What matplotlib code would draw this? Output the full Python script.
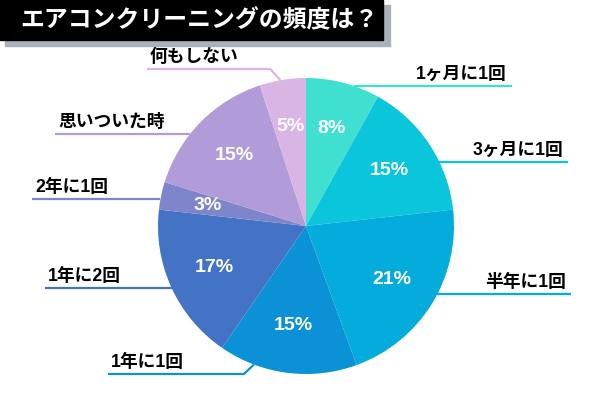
import numpy as np
import matplotlib
matplotlib.use("Agg")
import matplotlib.pyplot as plt
from matplotlib.patches import Rectangle

# データ
labels = ["1ヶ月に1回", "3ヶ月に1回", "半年に1回", "1年に1回",
          "1年に2回", "2年に1回", "思いついた時", "何もしない"]
values = [8, 15, 21, 15, 17, 3, 15, 5]
colors = ["#40E0D0", "#0BC5DA", "#03ACDA", "#0A91D6",
          "#4472C4", "#7F85CB", "#B19CD9", "#D9B5E3"]
title = "エアコンクリーニングの頻度は？"

# レイアウト (画像座標, y は下向き)
W, H = 600, 400
cx, cy, R = 306, 226, 148
# (引き出し線の y, 外側の x, 折れ線の円上の角度[時計回り, 上から] or None)
leaders = [
    (86, 512, None),
    (162, 568, None),
    (294, 571, None),
    (374, 108, 200.6),
    (288, 45, None),
    (199, 32, None),
    (134, 55, None),
    (69, 147, 350.0),
]

jp_font = ["Liberation Sans", "Noto Sans CJK JP"]

fig = plt.figure(figsize=(6, 4), dpi=100)
ax = fig.add_axes([0, 0, 1, 1])

wedges, _ = ax.pie(values, colors=colors, startangle=90, counterclock=False,
                   center=(cx, H - cy), radius=R,
                   wedgeprops=dict(linewidth=0))
ax.set_xlim(0, W)
ax.set_ylim(0, H)
ax.set_aspect("equal")
ax.axis("off")

# パーセント表示
for w, v in zip(wedges, values):
    mid = np.deg2rad((w.theta1 + w.theta2) / 2)
    x = cx + 0.68 * R * np.cos(mid)
    y = (H - cy) + 0.68 * R * np.sin(mid)
    ax.text(x, y, f"{v}%", color="white", fontsize=14, fontweight="bold",
            family="Liberation Sans", ha="center", va="center")

# ラベルと引き出し線
for lab, col, (ly, ox, ang) in zip(labels, colors, leaders):
    right = ox > cx
    if ang is None:
        dx = np.sqrt(R ** 2 - (ly - cy) ** 2)
        sx = cx + dx if right else cx - dx
        xs = [sx, ox]
        ys = [ly, ly]
    else:
        a = np.deg2rad(ang)
        sx = cx + R * np.sin(a)
        sy = cy - R * np.cos(a)
        ex = sx - 10 if not right else sx + 10
        xs = [sx, ex, ox]
        ys = [sy, ly, ly]
    ax.plot(xs, [H - y for y in ys], color=col, lw=1.6,
            solid_capstyle="butt", zorder=3)
    if right:
        ax.text(ox - 5, H - ly + 3, lab, fontsize=12.8, fontweight="bold",
                family=jp_font, ha="right", va="bottom")
    else:
        ax.text(ox + 3, H - ly + 3, lab, fontsize=12.8, fontweight="bold",
                family=jp_font, ha="left", va="bottom")

# タイトル
ax.add_patch(Rectangle((5, H - 46), 385, 41, color="#A9B1BA", zorder=4))
ax.add_patch(Rectangle((0, H - 40), 383, 40, color="black", zorder=5))
ax.text(20, H - 21, title, color="white", fontsize=17.2, fontweight="bold",
        family=jp_font, ha="left", va="center", zorder=6)

fig.savefig("out.png", dpi=100)
